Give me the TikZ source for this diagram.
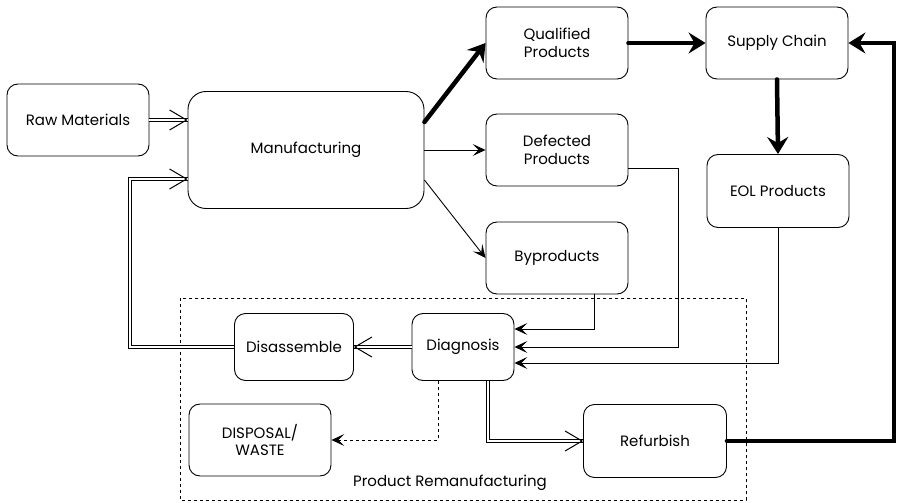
\documentclass[tikz,border=0pt]{standalone}
\usepackage{fontspec}
\setmainfont{Poppins}
\usetikzlibrary{arrows.meta,calc}

\begin{document}
\begin{tikzpicture}[x=1pt,y=-1pt
  ,line width=0.9pt
  ,font=\fontsize{15}{17.5}\selectfont]
  \tikzstyle{proc}=[draw,rounded corners=11pt,align=center,minimum width=142pt,minimum height=72pt,inner sep=2pt]
  \tikzstyle{flow}=[-{Stealth[length=13pt,width=12pt,inset=6pt]}]
  \tikzstyle{thick flow}=[line width=4.5pt,line cap=round,-{Stealth[length=17pt,width=21pt,inset=6pt]}]
  \tikzstyle{twin}=[double,double distance=2pt,line width=0.8pt
  ,postaction={draw=white,line width=0.4pt,-{Straight Barb[color=black,length=17pt,width=20pt,line width=1pt]}}]

  \useasboundingbox (0,0) rectangle (898,503);

  % top rows
  \node[proc] (raw) at (78,120) {Raw Materials};
  \node[proc,rounded corners=18pt,minimum width=236pt,minimum height=117pt] (manu) at (306,150) {Manufacturing};
  \node[proc] (qual) at (557,43) {Qualified\\Products};
  \node[proc] (supply) at (777,43) {Supply Chain};
  \node[proc] (defect) at (557,150) {Defected\\Products};
  \node[proc,minimum height=73pt] (eol) at (778,191) {EOL Products};
  \node[proc] (byprod) at (557,258) {Byproducts};
  % remanufacturing part
  \node[proc,minimum width=119pt,minimum height=67pt] (disasm) at (294,347) {Disassemble};
  \node[proc,minimum width=102pt,minimum height=67pt] (diag) at (463,347) {Diagnosis};
  \node[proc] (waste) at (260,440) {DISPOSAL/\\WASTE};
  \node[proc,minimum width=143pt,minimum height=73pt] (refurb) at (655,441) {Refurbish};
  \node (remanu) at (450,483) {Product Remanufacturing};
  \draw[dash pattern=on 3pt off 3pt,line width=0.7pt] (180,298) rectangle (746,500);

  \draw[twin] (raw.east) -- (raw.east -| manu.west);
  \draw[thick flow] ([yshift=28pt]manu.east) -- (qual.west);
  \draw[flow] (manu.east) -- (defect.west);
  \draw[flow] ([yshift=-30pt]manu.east) -- (byprod.west);
  \draw[thick flow] (qual.east) -- (supply.west);
  \draw[thick flow] (supply.south) -- (eol.north);
  \draw[thick flow] (refurb.east) -- ++(167,0) |- (supply.east);

  \draw[flow] ([xshift=37pt]byprod.south) |- ([yshift=18pt]diag.east);
  \draw[flow] ([yshift=-18pt]defect.east) -- ++(50,0) |- (diag.east);
  \draw[flow] (eol.south) |- ([yshift=-16pt]diag.east);

  \draw[twin] (diag.west) -- (disasm.east);
  \draw[twin] (disasm.west) -- ++(-104,0) |- ([yshift=-29pt]manu.west);
  \draw[flow,dash pattern=on 3pt off 3pt] ([xshift=-25pt]diag.south) |- (waste.east);
  \draw[twin] ([xshift=25pt]diag.south) |- (refurb.west);
\end{tikzpicture}
\end{document}
